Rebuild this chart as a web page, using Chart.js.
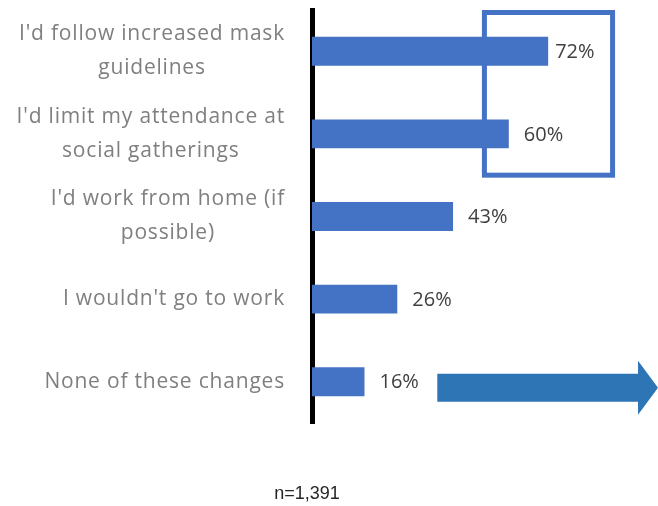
<!DOCTYPE html>
<html>
<head>
<meta charset="utf-8">
<script src="https://cdn.jsdelivr.net/npm/chart.js@4.4.1/dist/chart.umd.min.js"></script>
<style>
  html, body { margin: 0; padding: 0; background: #ffffff; }
  #wrap { width: 658px; height: 506px; position: relative; }
</style>
</head>
<body>
<div id="wrap"><canvas id="chart"></canvas></div>
<script>
// Survey answers (one category per bar, multi-line labels as arrays)
const categories = [
  ["I'd follow increased mask", "guidelines"],
  ["I'd limit my attendance at", "social gatherings"],
  ["I'd work from home (if", "possible)"],
  ["I wouldn't go to work"],
  ["None of these changes"]
];
// Share of respondents, in percent
const shares = [72, 60, 43, 26, 16];
// Sample size note under the chart
const sampleNote = "n=1,391";
// Bars whose labels are framed by the highlight box
const framedBars = [0, 1];
// Bar that the arrow points away from
const arrowBar = 4;

const BAR_BLUE = '#4472C4';
const ARROW_BLUE = '#2E75B6';

// Category labels: each block right-aligned to the axis, lines centred inside the block
const categoryLabels = {
  id: 'categoryLabels',
  afterDraw(chart) {
    const { ctx, chartArea, scales: { y } } = chart;
    ctx.save();
    ctx.font = '21px "Open Sans", sans-serif';
    ctx.letterSpacing = '0.8px';
    ctx.fillStyle = '#7F7F7F';
    ctx.textAlign = 'center';
    ctx.textBaseline = 'middle';
    const lineH = 34;
    const blockRight = chartArea.left - 27;
    categories.forEach((lines, i) => {
      const cy = y.getPixelForValue(i);
      const maxW = Math.max(...lines.map(l => ctx.measureText(l).width));
      const cx = blockRight - maxW / 2;
      lines.forEach((line, j) => {
        ctx.fillText(line, cx, cy + (j - (lines.length - 1) / 2) * lineH);
      });
    });
    ctx.restore();
  }
};

// Percent labels just past the end of each bar (the top one sits tight inside the box)
const valueLabels = {
  id: 'valueLabels',
  afterDatasetsDraw(chart) {
    const { ctx } = chart;
    const meta = chart.getDatasetMeta(0);
    ctx.save();
    ctx.font = '20px "Open Sans", sans-serif';
    ctx.fillStyle = '#404040';
    ctx.textAlign = 'left';
    ctx.textBaseline = 'middle';
    meta.data.forEach((bar, i) => {
      const gap = i === 0 ? 7 : 15;
      ctx.fillText(shares[i] + '%', bar.x + gap, bar.y + 1);
    });
    ctx.restore();
  }
};

// Highlight box around the top answers and the arrow beside the last bar
const callouts = {
  id: 'callouts',
  afterDatasetsDraw(chart) {
    const { ctx, scales: { x, y } } = chart;
    ctx.save();
    // box
    const lw = 5;
    const left = x.getPixelForValue(51.8);
    const right = x.getPixelForValue(92.4);
    const top = y.getPixelForValue(framedBars[0] - 0.5);
    const bottom = y.getPixelForValue(framedBars[framedBars.length - 1] + 0.53);
    ctx.strokeStyle = BAR_BLUE;
    ctx.lineWidth = lw;
    ctx.strokeRect(left + lw / 2, top + lw / 2, right - left - lw, bottom - top - lw);

    // arrow
    const ay = y.getPixelForValue(arrowBar) + 6;
    const tail = x.getPixelForValue(38.2);
    const neck = x.getPixelForValue(99.4);
    const tip = x.getPixelForValue(105.5);
    const bodyHalf = 14, headHalf = 27;
    ctx.fillStyle = ARROW_BLUE;
    ctx.beginPath();
    ctx.moveTo(tail, ay - bodyHalf);
    ctx.lineTo(neck, ay - bodyHalf);
    ctx.lineTo(neck, ay - headHalf);
    ctx.lineTo(tip, ay);
    ctx.lineTo(neck, ay + headHalf);
    ctx.lineTo(neck, ay + bodyHalf);
    ctx.lineTo(tail, ay + bodyHalf);
    ctx.closePath();
    ctx.fill();
    ctx.restore();
  }
};

// Sample size note
const footnote = {
  id: 'footnote',
  afterDraw(chart) {
    const { ctx } = chart;
    ctx.save();
    ctx.font = '18px "Liberation Sans", Arial, sans-serif';
    ctx.fillStyle = '#262626';
    ctx.textAlign = 'center';
    ctx.textBaseline = 'middle';
    ctx.fillText(sampleNote, 307, 494);
    ctx.restore();
  }
};

new Chart(document.getElementById('chart'), {
  type: 'bar',
  data: {
    labels: categories,
    datasets: [{
      data: shares,
      backgroundColor: BAR_BLUE,
      borderWidth: 0,
      barPercentage: 0.7,
      categoryPercentage: 0.5
    }]
  },
  options: {
    indexAxis: 'y',
    responsive: true,
    maintainAspectRatio: false,
    animation: false,
    layout: { padding: { top: 10, right: 18, bottom: 83, left: 0 } },
    plugins: {
      legend: { display: false },
      tooltip: { enabled: false },
      title: { display: false }
    },
    scales: {
      x: {
        min: 0,
        max: 100,
        display: false
      },
      y: {
        grid: { display: false, drawTicks: false },
        border: { display: true, color: '#000000', width: 5 },
        ticks: { display: false },
        afterFit(scale) { scale.width = 312; }
      }
    }
  },
  plugins: [categoryLabels, valueLabels, callouts, footnote]
});
</script>
</body>
</html>
